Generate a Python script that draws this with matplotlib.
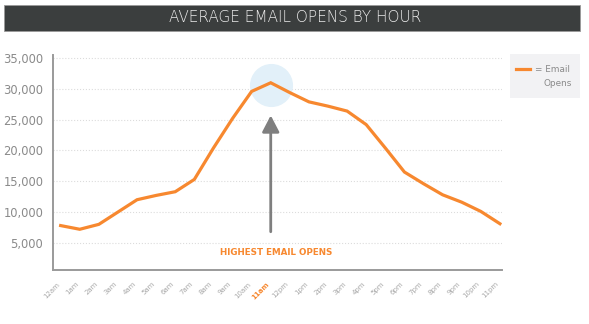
import matplotlib
matplotlib.use('Agg')
import matplotlib.pyplot as plt
from matplotlib.patches import Rectangle
from matplotlib.lines import Line2D

# hourly average opens
hours = ['12am', '1am', '2am', '3am', '4am', '5am', '6am', '7am', '8am', '9am', '10am', '11am',
         '12pm', '1pm', '2pm', '3pm', '4pm', '5pm', '6pm', '7pm', '8pm', '9pm', '10pm', '11pm']
opens = [7800, 7200, 8000, 10000, 12000, 12700, 13300, 15300, 20400, 25200, 29600, 31000,
         29400, 27900, 27200, 26400, 24200, 20400, 16500, 14600, 12800, 11600, 10100, 8100]
yticks = [5000, 10000, 15000, 20000, 25000, 30000, 35000]
peak_label = '11am'

orange = '#f7882f'
grey = '#8a8a8a'

fig = plt.figure(figsize=(5.89, 3.24), dpi=100)
ax = fig.add_axes([0.090, 0.167, 0.762, 0.663])

# title bar
fig.add_artist(Rectangle((4 / 589, 1 - 31 / 324), 576 / 589, 26 / 324,
                         transform=fig.transFigure, facecolor='#3b3e3e', edgecolor='#9a9a9a', lw=0.6))
fig.text(295 / 589, 1 - 18 / 324, 'AVERAGE EMAIL OPENS BY HOUR', color='#ececec',
         fontsize=11, fontweight='light', ha='center', va='center')

x = list(range(len(hours)))
peak = hours.index(peak_label)

# highlight circle behind the peak
ax.plot(x[peak], opens[peak] - 300, 'o', markersize=30, color='#e2f0f9', zorder=1)
ax.plot(x, opens, color=orange, lw=2.3, solid_joinstyle='miter', zorder=3)

# arrow + callout
ax.annotate('', xy=(x[peak], 25700), xytext=(x[peak], 6800),
            arrowprops=dict(arrowstyle='-|>,head_length=0.5,head_width=0.26', lw=2,
                            color='#7f7f7f', mutation_scale=20, shrinkA=0, shrinkB=0), zorder=2)
ax.text(x[peak] + 0.3, 3400, 'HIGHEST EMAIL OPENS', color=orange, fontsize=6.3,
        fontweight='bold', ha='center', va='center')

ax.set_xlim(-0.4, 23.1)
ax.set_ylim(600, 35500)
ax.set_yticks(yticks)
ax.set_yticklabels([f'{v:,}' for v in yticks])
ax.set_xticks(x)
ax.set_xticklabels(hours, rotation=45, ha='right', va='top', fontsize=5)
ax.tick_params(axis='both', length=0, colors=grey)
ax.tick_params(axis='y', labelsize=8.3, pad=7)
ax.tick_params(axis='x', pad=8)
for lbl in ax.get_xticklabels():
    lbl.set_color('#a8a8a8')
    if lbl.get_text() == peak_label:
        lbl.set_color(orange)
        lbl.set_fontweight('bold')

ax.grid(axis='y', color='#dcdcdc', linestyle=':', lw=0.8)
ax.grid(axis='x', visible=False)
ax.set_axisbelow(True)
for s in ['top', 'right']:
    ax.spines[s].set_visible(False)
for s in ['left', 'bottom']:
    ax.spines[s].set_color('#9a9a9a')
    ax.spines[s].set_linewidth(1.4)

# legend box
fig.add_artist(Rectangle((510 / 589, 1 - 98 / 324), 70 / 589, 44 / 324,
                         transform=fig.transFigure, facecolor='#f2f2f4', edgecolor='none'))
fig.add_artist(Line2D([516 / 589, 530 / 589], [1 - 69 / 324, 1 - 69 / 324],
                      transform=fig.transFigure, color=orange, lw=2.3))
fig.text(535 / 589, 1 - 69 / 324, '= Email', color=grey, fontsize=6.4, va='center')
fig.text(543 / 589, 1 - 83 / 324, 'Opens', color=grey, fontsize=6.4, va='center')

fig.savefig('out.png', dpi=100)
